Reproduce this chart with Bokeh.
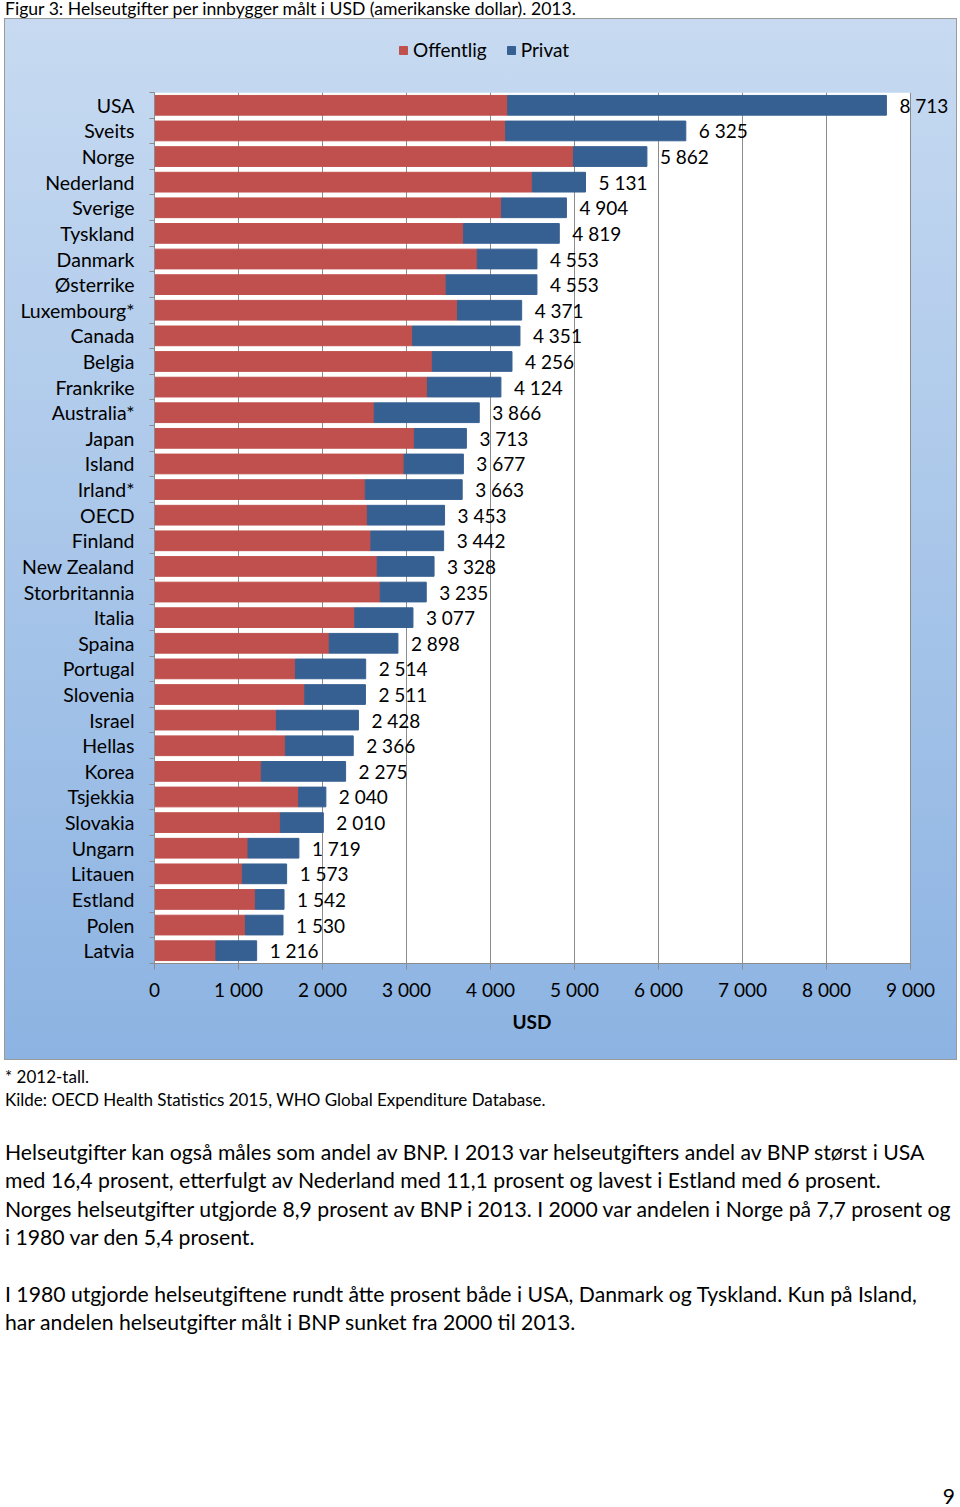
from bokeh.plotting import figure
from bokeh.models import (Range1d, FixedTicker, ColumnDataSource, LabelSet,
                          Legend, LegendItem, Div, BoxAnnotation, Title)
from bokeh.layouts import column
from bokeh.core.properties import value
from bokeh.embed import file_html
from bokeh.resources import INLINE

# ---------------- data ----------------
countries = ["USA", "Sveits", "Norge", "Nederland", "Sverige", "Tyskland",
             "Danmark", "Østerrike", "Luxembourg*", "Canada", "Belgia",
             "Frankrike", "Australia*", "Japan", "Island", "Irland*", "OECD",
             "Finland", "New Zealand", "Storbritannia", "Italia", "Spaina",
             "Portugal", "Slovenia", "Israel", "Hellas", "Korea", "Tsjekkia",
             "Slovakia", "Ungarn", "Litauen", "Estland", "Polen", "Latvia"]
offentlig = [4204, 4180, 4988, 4498, 4132, 3679, 3842, 3471, 3607, 3073, 3308,
             3249, 2616, 3094, 2971, 2509, 2534, 2576, 2651, 2687, 2384, 2080,
             1678, 1789, 1451, 1558, 1272, 1716, 1499, 1113, 1046, 1201, 1082,
             731]
privat = [4509, 2145, 874, 633, 772, 1140, 711, 1082, 764, 1278, 948,
          875, 1250, 619, 706, 1154, 919, 866, 677, 548, 693, 818,
          836, 722, 977, 808, 1003, 324, 511, 606, 527, 341, 448,
          485]
totals = [8713, 6325, 5862, 5131, 4904, 4819, 4553, 4553, 4371, 4351, 4256,
          4124, 3866, 3713, 3677, 3663, 3453, 3442, 3328, 3235, 3077, 2898,
          2514, 2511, 2428, 2366, 2275, 2040, 2010, 1719, 1573, 1542, 1530,
          1216]
total_labels = ["8 713", "6 325", "5 862", "5 131", "4 904", "4 819", "4 553",
                "4 553", "4 371", "4 351", "4 256", "4 124", "3 866", "3 713",
                "3 677", "3 663", "3 453", "3 442", "3 328", "3 235", "3 077",
                "2 898", "2 514", "2 511", "2 428", "2 366", "2 275", "2 040",
                "2 010", "1 719", "1 573", "1 542", "1 530", "1 216"]
x_ticks = [0, 1000, 2000, 3000, 4000, 5000, 6000, 7000, 8000, 9000]
x_tick_labels = ["0", "1 000", "2 000", "3 000", "4 000", "5 000", "6 000",
                 "7 000", "8 000", "9 000"]
series_names = ["Offentlig", "Privat"]
x_title = "USD"

title_text = "Figur 3: Helseutgifter per innbygger målt i USD (amerikanske dollar). 2013."
footnotes = ["* 2012-tall.",
             "Kilde: OECD Health Statistics 2015, WHO Global Expenditure Database."]
paragraph = ["Helseutgifter kan også måles som andel av BNP. I 2013 var helseutgifters andel av BNP størst i USA",
             "med 16,4 prosent, etterfulgt av Nederland med 11,1 prosent og lavest i Estland med 6 prosent.",
             "Norges helseutgifter utgjorde 8,9 prosent av BNP i 2013. I 2000 var andelen i Norge på 7,7 prosent og",
             "i 1980 var den 5,4 prosent.",
             "",
             "I 1980 utgjorde helseutgiftene rundt åtte prosent både i USA, Danmark og Tyskland. Kun på Island,",
             "har andelen helseutgifter målt i BNP sunket fra 2000 til 2013."]
page_number = "9"

# ---------------- style ----------------
RED = "#c0504d"
BLUE = "#376092"
GRID = "#8c8c8c"
FONT = "Lato"
FS = "19px"

AXIS_MAX = x_ticks[-1]
# frame is 796 px wide; the value axis (0..9000) occupies the first 756 px
VIEW_MAX = AXIS_MAX * 796 / 756

N = len(countries)
src = ColumnDataSource(dict(y=list(range(N)), Offentlig=offentlig,
                            Privat=privat, total=totals, label=total_labels))

# ---- legend strip (top part of the chart panel) ----
lg = figure(width=953, height=74, x_range=Range1d(0, VIEW_MAX),
            y_range=Range1d(0, 1),
            output_backend="svg", toolbar_location=None,
            min_border_left=150, min_border_right=7, min_border_top=0,
            min_border_bottom=0, border_fill_color=None,
            background_fill_color=None, outline_line_color=None, margin=0)
lg.axis.visible = False
lg.grid.visible = False
lrs = lg.hbar_stack(series_names, y="y", height=0.77, color=[RED, BLUE],
                    source=src)
for r in lrs:
    r.visible = False  # only used as legend swatches
legend = Legend(items=[LegendItem(label=series_names[0], renderers=[lrs[0]]),
                       LegendItem(label=series_names[1], renderers=[lrs[1]])],
                orientation="horizontal", location=(244, 31),
                glyph_width=10, glyph_height=10, label_standoff=5,
                spacing=19, padding=0, margin=0,
                border_line_color=None, background_fill_alpha=0,
                label_text_font=FONT, label_text_font_size=FS,
                label_text_color="black")
lg.add_layout(legend)

# ---- main chart ----
p = figure(width=953, height=968,
           x_range=Range1d(0, VIEW_MAX), y_range=Range1d(N - 0.5, -0.5),
           output_backend="svg", toolbar_location=None,
           min_border_left=150, min_border_right=7,
           min_border_top=0, min_border_bottom=97,
           border_fill_color=None, background_fill_color=None,
           outline_line_color=None, margin=0)

plot_area = BoxAnnotation(left=0, right=AXIS_MAX, fill_color="white",
                          fill_alpha=1, line_color=None, level="image")
p.add_layout(plot_area)

rs = p.hbar_stack(series_names, y="y", height=0.77, color=[RED, BLUE],
                  source=src)

labels = LabelSet(x="total", y="y", text="label", source=src, x_offset=13,
                  text_baseline="middle", text_align="left",
                  text_font=value(FONT), text_font_size=FS,
                  text_color="black")
p.add_layout(labels)

# x axis
xa = p.xaxis[0]
xa.bounds = (0, AXIS_MAX)
xa.ticker = FixedTicker(ticks=x_ticks)
xa.major_label_overrides = dict(zip(x_ticks, x_tick_labels))
xa.major_tick_out = 6
xa.major_tick_in = 0
xa.minor_tick_out = 0
xa.minor_tick_in = 0
xa.axis_line_color = GRID
xa.major_tick_line_color = GRID
xa.major_label_standoff = 8
xa.major_label_text_font = FONT
xa.major_label_text_font_size = FS
xa.major_label_text_color = "black"

# axis title, centred under the 0..9000 part of the frame
usd = Title(text=x_title, align="left", offset=358, standoff=8,
            text_font=FONT, text_font_size=FS, text_font_style="bold",
            text_color="black")
p.add_layout(usd, "below")

# y axis
ya = p.yaxis[0]
ya.ticker = FixedTicker(ticks=list(range(N)),
                        minor_ticks=[i - 0.5 for i in range(N + 1)])
ya.major_label_overrides = {i: c for i, c in enumerate(countries)}
ya.major_tick_out = 0
ya.major_tick_in = 0
ya.minor_tick_out = 5
ya.minor_tick_in = 0
ya.minor_tick_line_color = GRID
ya.axis_line_color = GRID
ya.major_label_standoff = 15
ya.major_label_text_font = FONT
ya.major_label_text_font_size = "19.5px"
ya.major_label_text_color = "black"

p.xgrid.ticker = FixedTicker(ticks=x_ticks)
p.xgrid.grid_line_color = GRID
p.ygrid.grid_line_color = None

panel = column(lg, p, spacing=0, width=953, height=1042, margin=(0, 0, 0, 4),
               styles={"background": "linear-gradient(to bottom, #c7daf1 0%, #8cb3e2 100%)",
                       "box-shadow": "inset 0 0 0 1px #9a9a9a"})

base = "font-family:Lato;color:#000;white-space:pre;padding-left:5px;"

title_div = Div(text=f'<div style="{base}font-size:17.6px;line-height:17px;">{title_text}</div>',
                width=955, height=18, margin=0)
foot_div = Div(text=f'<div style="{base}font-size:17px;line-height:23px;padding-top:4.5px;">'
               + "<br>".join(footnotes) + "</div>",
               width=955, height=54, margin=0)
para_div = Div(text=f'<div style="{base}font-size:21.2px;line-height:28.4px;padding-top:24px;">'
               + "<br>".join(l if l else "&nbsp;" for l in paragraph) + "</div>",
               width=955, height=226, margin=0)
page_div = Div(text=f'<div style="font-family:Lato;color:#000;font-size:21px;line-height:20px;padding-top:146px;text-align:right;width:955px;">{page_number}</div>',
               width=955, height=165, margin=0)

layout = column(title_div, panel, foot_div, para_div, page_div, spacing=0, margin=0)

open("out.html", "w").write(file_html(layout, INLINE))
